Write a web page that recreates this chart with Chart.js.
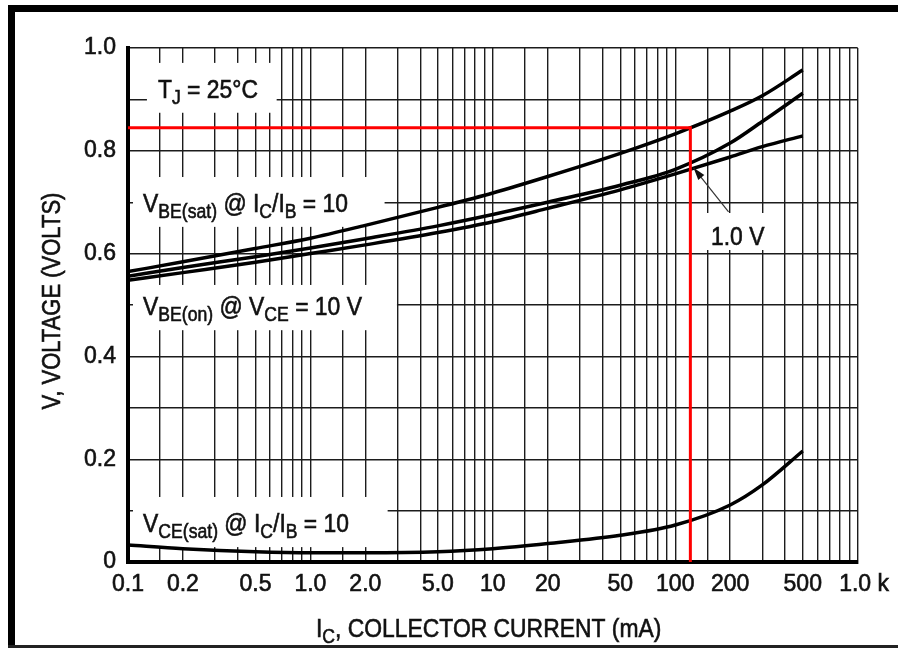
<!DOCTYPE html>
<html>
<head>
<meta charset="utf-8">
<script src="https://cdn.jsdelivr.net/npm/chart.js@4/dist/chart.umd.min.js"></script>
<style>
  html, body { margin: 0; padding: 0; background: #fff; }
  #wrap { position: relative; width: 898px; height: 648px; }
</style>
</head>
<body>
<div id="wrap"><canvas id="chart"></canvas></div>
<script>
// collector current, mA
const currentMA = [0.1, 0.2, 0.5, 1, 2, 5, 10, 20, 50, 100, 200, 300, 500];

// volts
const vbeSat = [0.565, 0.584, 0.610, 0.630, 0.655, 0.690, 0.718, 0.750, 0.795, 0.833, 0.877, 0.907, 0.957];
const vbeOn1V = [0.556, 0.573, 0.594, 0.611, 0.629, 0.654, 0.676, 0.700, 0.733, 0.764, 0.815, 0.857, 0.912];
const vbeOn10V = [0.548, 0.563, 0.583, 0.600, 0.617, 0.641, 0.662, 0.688, 0.724, 0.755, 0.788, 0.808, 0.829];
const vceSat = [0.033, 0.026, 0.020, 0.018, 0.018, 0.020, 0.026, 0.036, 0.052, 0.072, 0.111, 0.150, 0.216];

// red read-off lines
const markerI = [0.1, 121, 121];
const markerV = [0.845, 0.845, 0];

const xLabelValues = [0.1, 0.2, 0.5, 1, 2, 5, 10, 20, 50, 100, 200, 500, 1000];
const xLabelTexts = ["0.1", "0.2", "0.5", "1.0", "2.0", "5.0", "10", "20", "50", "100", "200", "500", "  1.0 k"];
const yLabelValues = [0, 0.2, 0.4, 0.6, 0.8, 1.0];
const yLabelTexts = ["0", "0.2", "0.4", "0.6", "0.8", "1.0"];

const gridMantissas = [1, 1.5, 2, 3, 4, 5, 6, 7, 8, 9];
const xGridValues = [];
[0.1, 1, 10, 100].forEach((d) => gridMantissas.forEach((m) => xGridValues.push(+(d * m).toPrecision(3))));
xGridValues.push(1000);
const yGridValues = [0, 0.1, 0.2, 0.3, 0.4, 0.5, 0.6, 0.7, 0.8, 0.9, 1.0];

const FAMILY = "'Liberation Sans', Arial, Helvetica, sans-serif";
const INK = "#111";
const SQUEEZE = 0.88;

const toPoints = (ys) => currentMA.map((x, i) => ({ x, y: ys[i] }));

// text labels on the plot, anchored in data units
const plotLabels = [
  { box: [0.127, 0.653, 0.971, 0.874], at: [0.146, 0.903],
    parts: [{ t: "T" }, { t: "J", sub: true }, { t: " = 25°C" }] },
  { box: [0.1065, 2.55, 0.749, 0.652], at: [0.121, 0.681],
    parts: [{ t: "V" }, { t: "BE(sat)", sub: true }, { t: " @ I" }, { t: "C", sub: true }, { t: "/I" }, { t: "B", sub: true }, { t: " = 10" }] },
  { box: [0.1065, 2.98, 0.539, 0.451], at: [0.121, 0.4805],
    parts: [{ t: "V" }, { t: "BE(on)", sub: true }, { t: " @ V" }, { t: "CE", sub: true }, { t: " = 10 V" }] },
  { box: [0.1065, 2.65, 0.1265, 0.029], at: [0.121, 0.058],
    parts: [{ t: "V" }, { t: "CE(sat)", sub: true }, { t: " @ I" }, { t: "C", sub: true }, { t: "/I" }, { t: "B", sub: true }, { t: " = 10" }] },
  { box: [149, 313, 0.679, 0.607], at: [157, 0.617],
    parts: [{ t: "1.0 V" }] },
];
const arrowTail = [196, 0.681];
const arrowTip = [126, 0.767];

function drawRich(ctx, parts, x, y, size) {
  ctx.save();
  ctx.translate(x, y);
  ctx.scale(SQUEEZE, 1);
  ctx.fillStyle = INK;
  ctx.strokeStyle = INK;
  ctx.lineWidth = 0.6;
  ctx.textAlign = "left";
  ctx.textBaseline = "alphabetic";
  let cx = 0;
  for (const p of parts) {
    ctx.font = (p.sub ? 20 : size) + "px " + FAMILY;
    const dy = p.sub ? 6 : 0;
    ctx.fillText(p.t, cx, dy);
    ctx.strokeText(p.t, cx, dy);
    cx += ctx.measureText(p.t).width;
  }
  ctx.restore();
}

const datasheetDecor = {
  id: "datasheetDecor",
  beforeDatasetsDraw(chart) {
    const { ctx, scales: { x, y } } = chart;
    ctx.save();
    ctx.fillStyle = "#fff";
    for (const l of plotLabels) {
      const x0 = x.getPixelForValue(l.box[0]);
      const x1 = x.getPixelForValue(l.box[1]);
      const y0 = y.getPixelForValue(l.box[2]);
      const y1 = y.getPixelForValue(l.box[3]);
      ctx.fillRect(x0, y0, x1 - x0, y1 - y0);
    }
    for (const l of plotLabels) {
      drawRich(ctx, l.parts, x.getPixelForValue(l.at[0]), y.getPixelForValue(l.at[1]), 26);
    }
    ctx.restore();
  },
  afterDatasetsDraw(chart) {
    const { ctx, scales: { x, y } } = chart;
    const tx = x.getPixelForValue(arrowTail[0]), ty = y.getPixelForValue(arrowTail[1]);
    const hx = x.getPixelForValue(arrowTip[0]), hy = y.getPixelForValue(arrowTip[1]);
    const ang = Math.atan2(hy - ty, hx - tx);
    ctx.save();
    ctx.strokeStyle = "#333";
    ctx.fillStyle = "#111";
    ctx.lineWidth = 1.2;
    ctx.beginPath();
    ctx.moveTo(tx, ty);
    ctx.lineTo(hx, hy);
    ctx.stroke();
    ctx.beginPath();
    ctx.moveTo(hx, hy);
    ctx.lineTo(hx - 13 * Math.cos(ang - 0.3), hy - 13 * Math.sin(ang - 0.3));
    ctx.lineTo(hx - 13 * Math.cos(ang + 0.3), hy - 13 * Math.sin(ang + 0.3));
    ctx.closePath();
    ctx.fill();
    ctx.restore();
  },
  afterDraw(chart) {
    const { ctx } = chart;
    ctx.save();
    // axis titles
    drawRich(ctx, [{ t: "I" }, { t: "C", sub: true }, { t: ", COLLECTOR CURRENT (mA)" }], 316, 637, 26);
    ctx.translate(60, 301);
    ctx.rotate(-Math.PI / 2);
    ctx.scale(SQUEEZE, 1);
    ctx.font = "25px " + FAMILY;
    ctx.fillStyle = INK;
    ctx.strokeStyle = INK;
    ctx.lineWidth = 0.6;
    ctx.textAlign = "center";
    ctx.textBaseline = "alphabetic";
    ctx.fillText("V, VOLTAGE (VOLTS)", 0, 0);
    ctx.strokeText("V, VOLTAGE (VOLTS)", 0, 0);
    ctx.restore();
    // page frame
    ctx.save();
    ctx.fillStyle = "#000";
    ctx.fillRect(8, 5, 7, 643);
    ctx.fillRect(8, 5, 890, 7);
    ctx.fillStyle = "#222";
    ctx.fillRect(8, 645, 890, 3);
    ctx.restore();
  },
};

const curveStyle = {
  borderColor: "#000",
  borderWidth: 3.5,
  pointRadius: 0,
  cubicInterpolationMode: "monotone",
  order: 2,
};

const tickFont = { family: FAMILY, size: 23 };

new Chart(document.getElementById("chart"), {
  type: "line",
  data: {
    datasets: [
      { label: "VBE(sat) @ IC/IB = 10", data: toPoints(vbeSat), ...curveStyle },
      { label: "VBE(on) @ VCE = 1.0 V", data: toPoints(vbeOn1V), ...curveStyle },
      { label: "VBE(on) @ VCE = 10 V", data: toPoints(vbeOn10V), ...curveStyle },
      { label: "VCE(sat) @ IC/IB = 10", data: toPoints(vceSat), ...curveStyle },
      {
        label: "read-off",
        data: markerI.map((x, i) => ({ x, y: markerV[i] })),
        borderColor: "#ff0000",
        borderWidth: 3,
        pointRadius: 0,
        tension: 0,
        order: 1,
      },
    ],
  },
  options: {
    responsive: true,
    maintainAspectRatio: false,
    animation: false,
    layout: { padding: { top: 48, right: 38, left: 0, bottom: 0 } },
    plugins: {
      legend: { display: false },
      tooltip: { enabled: false },
    },
    scales: {
      x: {
        type: "logarithmic",
        min: 0.1,
        max: 1000,
        afterBuildTicks: (s) => {
          s.ticks = xGridValues.map((v) => ({ value: v }));
        },
        afterFit: (s) => {
          s.height = 86;
        },
        ticks: {
          autoSkip: false,
          maxRotation: 0,
          padding: 9,
          color: INK,
          textStrokeColor: INK,
          textStrokeWidth: 0.6,
          font: tickFont,
          callback: (value) => {
            const i = xLabelValues.findIndex((v) => Math.abs(v - value) / v < 1e-6);
            return i >= 0 ? xLabelTexts[i] : "";
          },
        },
        grid: { color: "#1c1c1c", lineWidth: 1.4, drawTicks: false },
        border: { color: "#000", width: 4 },
      },
      y: {
        min: 0,
        max: 1,
        afterBuildTicks: (s) => {
          s.ticks = yGridValues.map((v) => ({ value: v }));
        },
        afterFit: (s) => {
          s.width = 128;
        },
        ticks: {
          padding: 12,
          color: INK,
          textStrokeColor: INK,
          textStrokeWidth: 0.6,
          font: tickFont,
          callback: (value) => {
            const i = yLabelValues.findIndex((v) => Math.abs(v - value) < 1e-6);
            return i >= 0 ? yLabelTexts[i] : "";
          },
        },
        grid: { color: "#1c1c1c", lineWidth: 1.4, drawTicks: false },
        border: { color: "#000", width: 4 },
      },
    },
  },
  plugins: [datasheetDecor],
});
</script>
</body>
</html>
